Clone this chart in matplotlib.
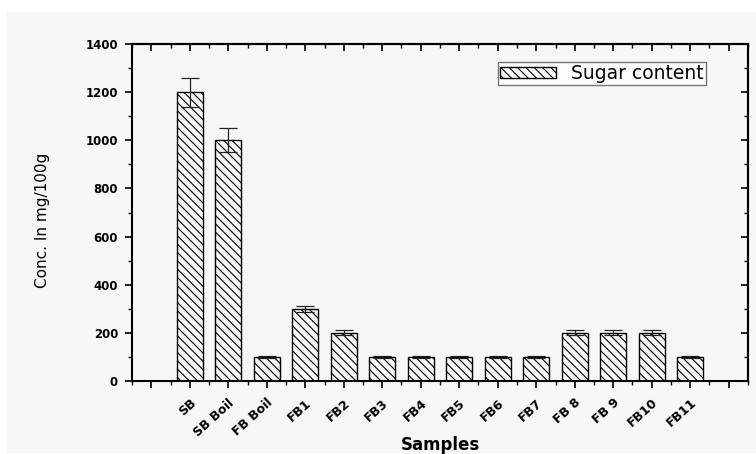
import matplotlib.pyplot as plt
import numpy as np
from matplotlib.patches import Rectangle
from matplotlib.ticker import MultipleLocator

samples = ["SB", "SB Boil", "FB Boil", "FB1", "FB2", "FB3", "FB4", "FB5",
           "FB6", "FB7", "FB 8", "FB 9", "FB10", "FB11"]
sugar = [1200, 1000, 100, 300, 200, 100, 100, 100, 100, 100, 200, 200, 200, 100]
sugar_err = [60, 50, 4, 12, 10, 4, 4, 4, 4, 4, 10, 10, 10, 4]

plt.rcParams["font.family"] = ["DejaVu Sans"]
plt.rcParams["hatch.linewidth"] = 0.8

W, H = 756, 454
fig = plt.figure(figsize=(W / 100, H / 100), dpi=100, facecolor="white")
fig.patches.append(Rectangle((7 / W, 1 / H), 1 - 7 / W, (H - 13) / H,
                             transform=fig.transFigure, facecolor="#f7f7f7",
                             edgecolor="none", zorder=-10))

ax = fig.add_axes([132 / W, 1 - 381 / H, 616 / W, 337 / H])
ax.set_facecolor("#f7f7f7")

x = np.arange(1, len(samples) + 1)
ax.bar(x, sugar, width=0.68, facecolor="none", edgecolor="black",
       hatch="\\\\\\\\", linewidth=1.0, label="Sugar content", zorder=2)
ax.errorbar(x, sugar, yerr=sugar_err, fmt="none", ecolor="#222222",
            elinewidth=0.9, capsize=6.5, capthick=0.9, zorder=3)

ax.set_xlim(-0.5, 15.5)
ax.set_ylim(0, 1400)
ax.set_xticks(np.arange(0, 16))
ax.set_xticklabels([""] + samples + [""], rotation=42, ha="right",
                   rotation_mode="anchor", fontsize=9, fontweight="bold")
ax.xaxis.set_minor_locator(MultipleLocator(0.5))
ax.yaxis.set_major_locator(MultipleLocator(200))
ax.yaxis.set_minor_locator(MultipleLocator(100))

for s in ax.spines.values():
    s.set_linewidth(1.5)
ax.tick_params(axis="both", which="major", length=5, width=1.2, direction="out")
ax.tick_params(axis="both", which="minor", length=3, width=1.0, direction="out")
ax.tick_params(axis="x", which="major", pad=6)
ax.tick_params(axis="y", which="major", pad=5, labelsize=8.5)
for lab in ax.get_yticklabels():
    lab.set_fontweight("bold")

# mirrored inward ticks on top and right
axt = ax.secondary_xaxis("top")
axt.set_xticks(np.arange(0, 16))
axt.xaxis.set_minor_locator(MultipleLocator(0.5))
axt.tick_params(which="major", direction="in", length=5, width=1.2, labeltop=False)
axt.tick_params(which="minor", direction="in", length=3, width=1.0)
axt.spines["top"].set_linewidth(1.5)
axr = ax.secondary_yaxis("right")
axr.yaxis.set_major_locator(MultipleLocator(200))
axr.yaxis.set_minor_locator(MultipleLocator(100))
axr.tick_params(which="major", direction="in", length=5, width=1.2, labelright=False)
axr.tick_params(which="minor", direction="in", length=3, width=1.0)
axr.spines["right"].set_linewidth(1.5)

ax.set_ylabel("Conc. In mg/100g", fontsize=11)
ax.yaxis.set_label_coords(-0.1445, 0.478)
ax.yaxis.label.set_va("center")
ax.set_xlabel("Samples", fontsize=12, fontweight="bold")
ax.xaxis.set_label_coords(0.5, -0.19)
ax.xaxis.label.set_va("center")

leg = ax.legend(loc="upper right", bbox_to_anchor=(0.932, 0.947), fancybox=False,
                edgecolor="#555555", fontsize=13.5, handlelength=3.0,
                handleheight=0.6, borderpad=0.12, handletextpad=0.8,
                borderaxespad=0)
leg.get_frame().set_linewidth(1.0)
leg.get_frame().set_facecolor("white")

fig.savefig("out.png", dpi=100)
